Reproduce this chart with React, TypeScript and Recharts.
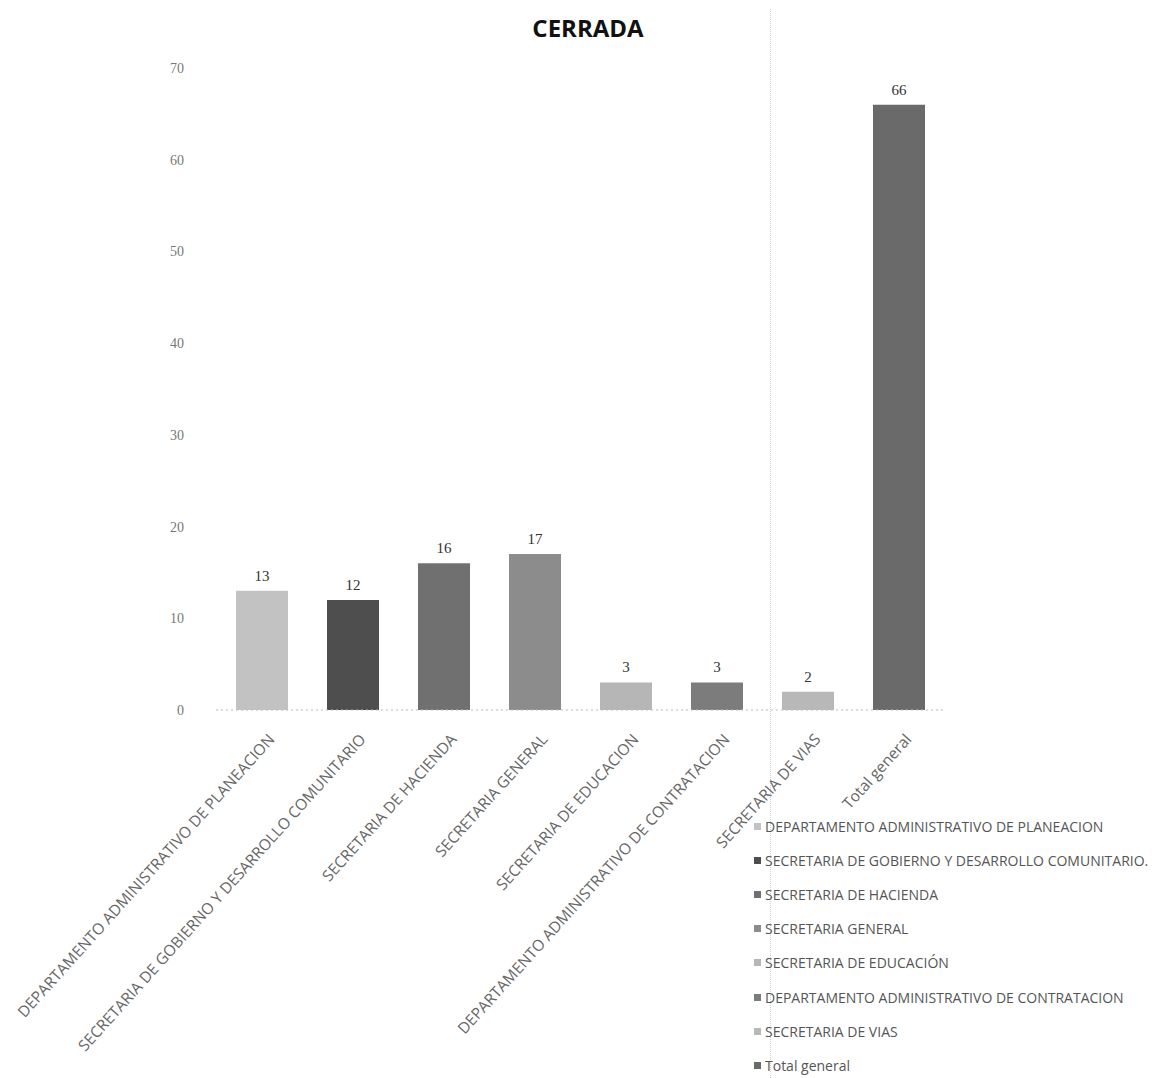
import React from 'react';
import { BarChart, Bar, XAxis, YAxis, Cell, LabelList } from 'recharts';

const categories = [
  'DEPARTAMENTO ADMINISTRATIVO DE PLANEACION',
  'SECRETARIA DE GOBIERNO Y DESARROLLO COMUNITARIO',
  'SECRETARIA DE HACIENDA',
  'SECRETARIA GENERAL',
  'SECRETARIA DE EDUCACION',
  'DEPARTAMENTO ADMINISTRATIVO DE CONTRATACION',
  'SECRETARIA DE VIAS',
  'Total general',
];
const legendLabels = [
  'DEPARTAMENTO ADMINISTRATIVO DE PLANEACION',
  'SECRETARIA DE GOBIERNO Y DESARROLLO COMUNITARIO.',
  'SECRETARIA DE HACIENDA',
  'SECRETARIA GENERAL',
  'SECRETARIA DE EDUCACIÓN',
  'DEPARTAMENTO ADMINISTRATIVO DE CONTRATACION',
  'SECRETARIA DE VIAS',
  'Total general',
];
const values = [13, 12, 16, 17, 3, 3, 2, 66];
const colors = ['#c2c2c2', '#4e4e4e', '#707070', '#8c8c8c', '#b6b6b6', '#7c7c7c', '#b8b8b8', '#6a6a6a'];
const yTicks = [0, 10, 20, 30, 40, 50, 60, 70];

const data = categories.map((name, i) => ({ name, value: values[i] }));

const XTick = (props: any) => {
  const { x, y, payload } = props;
  return (
    <text
      x={x + 14}
      y={y + 22}
      transform={`rotate(-48 ${x + 14} ${y + 22})`}
      textAnchor="end"
      fontSize={15.5}
      fontFamily="'Open Sans', sans-serif"
      fill="#666"
    >
      {payload.value}
    </text>
  );
};

export default function App() {
  return (
    <div style={{ position: 'relative', width: 1150, height: 1070 }}>
      <div
        style={{
          position: 'absolute',
          left: 0,
          width: 1160,
          top: 3,
          textAlign: 'center',
          fontFamily: "'Open Sans', sans-serif",
          fontWeight: 700,
          fontSize: 24,
          color: '#111',
        }}
      >
        CERRADA
      </div>
      <div
        style={{
          position: 'absolute',
          left: 762,
          top: -8,
          width: 0,
          height: 1078,
          borderLeft: '1px dotted #d0d0d0',
        }}
      />
      <BarChart
        width={1150}
        height={1070}
        data={data}
        margin={{ top: 60, right: 214, bottom: 8, left: 0 }}
        barSize={52}
      >
        <XAxis
          dataKey="name"
          interval={0}
          height={360}
          tick={<XTick />}
          tickLine={false}
          axisLine={{ stroke: '#bbb', strokeDasharray: '2 3' }}
        />
        <YAxis
          width={208}
          domain={[0, 70]}
          ticks={yTicks}
          tickLine={false}
          axisLine={false}
          tickMargin={26}
          tick={{ fontSize: 14, fill: '#777', fontFamily: "'Liberation Serif', serif" }}
        />
        <Bar dataKey="value" isAnimationActive={false}>
          {data.map((d, i) => (
            <Cell key={d.name} fill={colors[i]} />
          ))}
          <LabelList
            dataKey="value"
            position="top"
            offset={10}
            style={{ fontSize: 15, fill: '#333', fontFamily: "'Liberation Serif', serif" }}
          />
        </Bar>
      </BarChart>
      <div
        style={{
          position: 'absolute',
          left: 746,
          top: 801,
          width: 420,
          fontFamily: "'Open Sans', sans-serif",
          fontSize: 14,
          color: '#555',
        }}
      >
        {legendLabels.map((l, i) => (
          <div key={l} style={{ display: 'flex', alignItems: 'center', height: 34.2, whiteSpace: 'nowrap' }}>
            <span style={{ display: 'inline-block', width: 7, height: 7, background: colors[i], marginRight: 4 }} />
            <span>{l}</span>
          </div>
        ))}
      </div>
    </div>
  );
}
